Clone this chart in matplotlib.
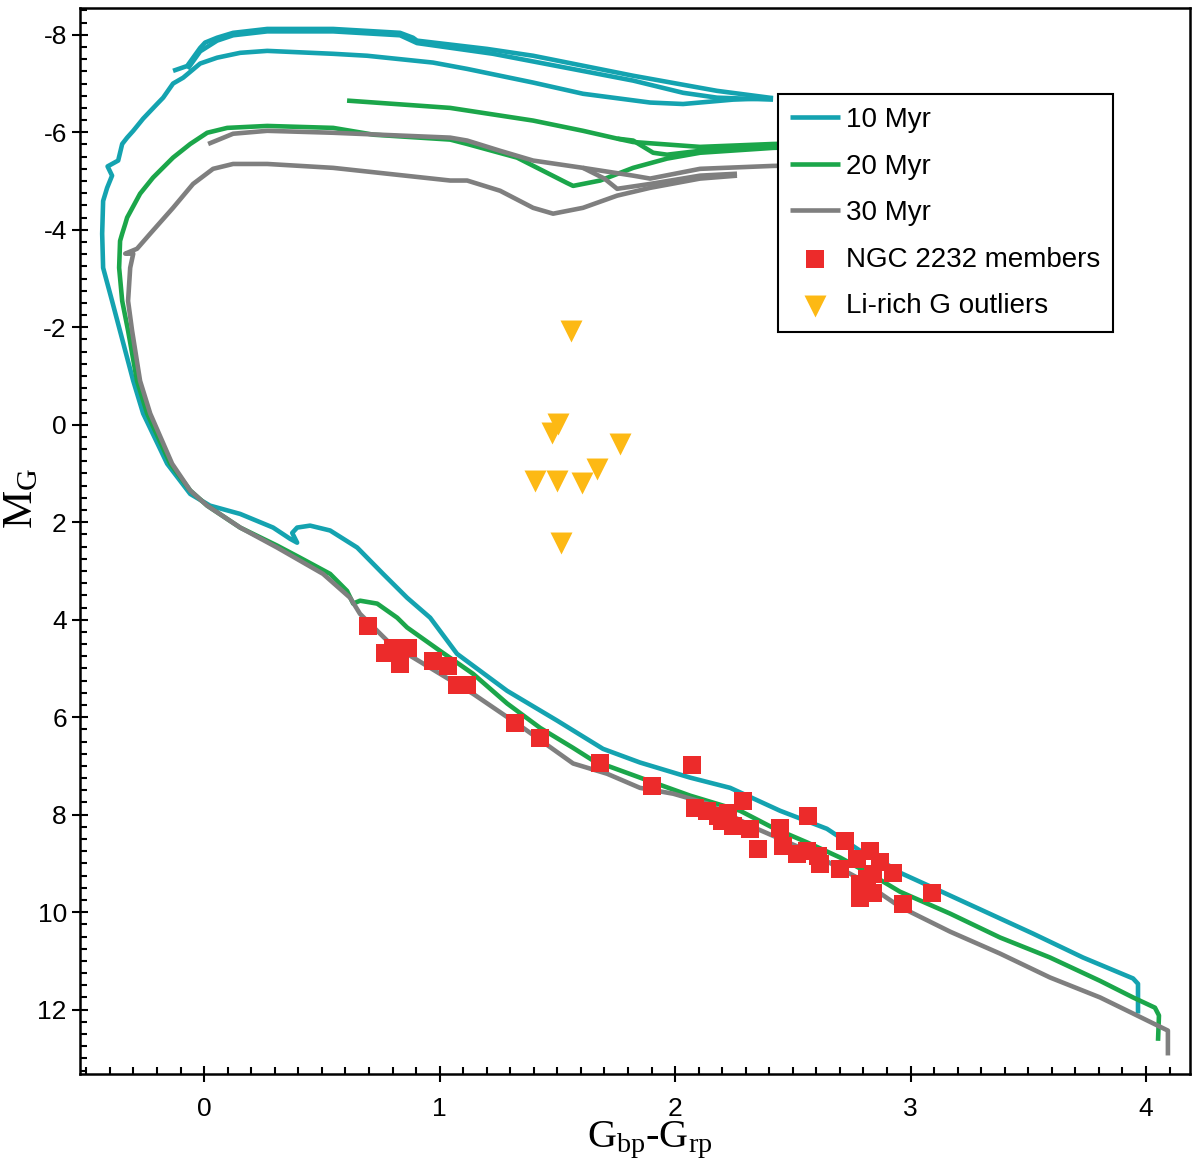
import matplotlib
matplotlib.use('Agg')
import matplotlib.pyplot as plt
from matplotlib.ticker import MultipleLocator

plt.rcParams['font.family'] = ['Liberation Sans', 'DejaVu Sans']
plt.rcParams['axes.unicode_minus'] = False
plt.rcParams['mathtext.fontset'] = 'custom'
plt.rcParams['mathtext.rm'] = 'Liberation Serif'
plt.rcParams['mathtext.it'] = 'Liberation Serif:italic'

TEAL = '#14a3b0'
GREEN = '#1ba64a'
GREY = '#7f7f7f'
RED = '#ec2b2b'
YELLOW = '#fdb914'

# ---- isochrones (Gbp-Grp, M_G) ----
iso10_c = [3.966, 3.966, 3.945, 3.732, 3.520, 3.308, 3.096, 2.955, 2.926, 2.786, 2.645, 2.446,
           2.234, 2.064, 1.851, 1.694, 1.499, 1.287, 1.074, 0.960, 0.862, 0.760, 0.650, 0.535,
           0.450, 0.395, 0.374, 0.395, 0.365, 0.293, 0.153, 0.025, -0.059, -0.157, -0.259,
           -0.301, -0.391, -0.429, -0.433, -0.429, -0.412, -0.391, -0.410, -0.365, -0.348,
           -0.327, -0.301, -0.259, -0.200, -0.174, -0.132, -0.089, -0.017, 0.055, 0.153, 0.268,
           0.548, 0.692, 0.972, 1.117, 1.397, 1.609, 1.894, 2.034, 2.246, 2.416]
iso10_m = [12.08, 11.47, 11.36, 10.93, 10.44, 9.97, 9.50, 9.19, 9.09, 8.74, 8.29, 7.92,
           7.45, 7.24, 6.93, 6.65, 6.07, 5.46, 4.70, 3.96, 3.55, 3.06, 2.52, 2.17,
           2.07, 2.11, 2.22, 2.42, 2.34, 2.11, 1.83, 1.66, 1.42, 0.80, -0.23,
           -0.90, -2.54, -3.22, -3.92, -4.59, -4.86, -5.11, -5.30, -5.42, -5.76,
           -5.89, -6.03, -6.28, -6.58, -6.71, -7.00, -7.12, -7.41, -7.53, -7.63, -7.67,
           -7.61, -7.57, -7.43, -7.30, -7.02, -6.79, -6.61, -6.58, -6.67, -6.70]
iso10_top_a_c = [-0.132, -0.072, -0.017, 0.004, 0.055, 0.123, 0.268, 0.548, 0.832, 0.887, 0.904,
                 1.202, 1.397, 1.822, 2.178, 2.416]
iso10_top_a_m = [-7.26, -7.36, -7.73, -7.84, -7.94, -8.04, -8.12, -8.12, -8.04, -7.94, -7.88,
                 -7.71, -7.57, -7.16, -6.85, -6.70]
iso10_top_b_c = [-0.070, -0.017, 0.055, 0.123, 0.268, 0.548, 0.832, 0.904, 1.227, 1.541, 1.822,
                 2.034, 2.178, 2.416]
iso10_top_b_m = [-7.30, -7.66, -7.88, -7.99, -8.07, -8.07, -7.99, -7.83, -7.61, -7.32, -7.06,
                 -6.81, -6.71, -6.67]

iso20_c = [4.051, 4.055, 4.038, 3.945, 3.805, 3.592, 3.380, 3.168, 2.955, 2.841, 2.701, 2.561,
           2.416, 2.276, 2.064, 1.851, 1.652, 1.567, 1.427, 1.287, 1.142, 1.002, 0.862, 0.820,
           0.735, 0.662, 0.633, 0.607, 0.535, 0.408, 0.310, 0.153, 0.013, -0.059, -0.144,
           -0.242, -0.285, -0.323, -0.348, -0.361, -0.357, -0.348, -0.335, -0.327, -0.272,
           -0.217, -0.132, -0.059, 0.013, 0.098, 0.268, 0.548, 0.720, 1.045, 1.117, 1.329,
           1.541, 1.567, 1.682, 1.822, 1.966, 2.106, 2.416, 2.550]
iso20_m = [12.64, 12.12, 11.96, 11.75, 11.41, 10.93, 10.52, 10.03, 9.58, 9.25, 8.88, 8.57,
           8.27, 7.92, 7.61, 7.24, 6.89, 6.63, 6.22, 5.72, 5.11, 4.64, 4.16, 3.96,
           3.67, 3.61, 3.67, 3.41, 3.06, 2.73, 2.48, 2.11, 1.66, 1.35, 0.80,
           -0.23, -0.90, -1.93, -2.54, -3.22, -3.77, -3.92, -4.12, -4.25, -4.74,
           -5.07, -5.48, -5.76, -5.99, -6.09, -6.13, -6.09, -5.95, -5.85, -5.76, -5.48,
           -4.96, -4.90, -5.01, -5.27, -5.46, -5.58, -5.68, -5.70]
iso20_top_a_c = [0.607, 1.045, 1.397, 1.609, 1.754, 1.822, 1.907, 1.966, 2.106, 2.416, 2.550]
iso20_top_a_m = [-6.65, -6.50, -6.24, -6.03, -5.87, -5.83, -5.58, -5.54, -5.62, -5.72, -5.73]
iso20_top_b_c = [1.754, 1.822, 2.106, 2.416, 2.550]
iso20_top_b_m = [-5.87, -5.80, -5.70, -5.76, -5.77]

iso30_c = [4.093, 4.093, 3.945, 3.805, 3.592, 3.380, 3.168, 2.955, 2.773, 2.561, 2.348, 2.136,
           1.992, 1.851, 1.711, 1.567, 1.355, 1.142, 0.930, 0.790, 0.662, 0.620, 0.505, 0.310,
           0.153, 0.013, -0.059, -0.136, -0.229, -0.272, -0.306, -0.323, -0.314, -0.301,
           -0.335, -0.285, -0.229, -0.132, -0.047, 0.038, 0.123, 0.268, 0.548, 1.045, 1.117,
           1.257, 1.397, 1.482, 1.609, 1.754, 1.894, 2.106, 2.263]
iso30_m = [12.94, 12.43, 12.08, 11.75, 11.34, 10.85, 10.40, 9.89, 9.29, 8.74, 8.29, 7.77,
           7.57, 7.45, 7.16, 6.95, 6.22, 5.52, 4.90, 4.49, 3.88, 3.55, 3.06, 2.52,
           2.11, 1.66, 1.35, 0.80, -0.23, -0.90, -1.93, -2.54, -3.22, -3.51,
           -3.51, -3.61, -3.92, -4.45, -4.94, -5.25, -5.35, -5.35, -5.27, -5.01, -5.01,
           -4.80, -4.45, -4.33, -4.45, -4.70, -4.86, -5.05, -5.11]
iso30_top_a_c = [0.017, 0.123, 0.268, 0.548, 1.045, 1.117, 1.257, 1.397, 1.609, 1.700, 1.754,
                 1.894, 2.106, 2.263]
iso30_top_a_m = [-5.76, -5.97, -6.03, -5.99, -5.89, -5.83, -5.62, -5.42, -5.27, -5.05, -4.84,
                 -4.94, -5.11, -5.15]
iso30_top_b_c = [1.609, 1.822, 1.894, 2.106, 2.416, 2.550]
iso30_top_b_m = [-5.27, -5.11, -5.05, -5.25, -5.31, -5.32]

# ---- stars ----
members_c = [0.696, 0.803, 0.866, 0.832, 0.769, 0.972, 1.036, 1.074, 1.117, 1.321, 1.427, 1.682,
             1.902, 2.072, 2.085, 2.136, 2.183, 2.225, 2.200, 2.246, 2.289, 2.318, 2.352, 2.446,
             2.565, 2.459, 2.518, 2.561, 2.607, 2.616, 2.722, 2.701, 2.828, 2.773, 2.870, 2.926,
             2.786, 2.786, 2.841, 2.968, 3.091, 2.841, 2.815]
members_m = [4.12, 4.59, 4.59, 4.90, 4.68, 4.84, 4.94, 5.35, 5.33, 6.11, 6.42, 6.95,
             7.41, 6.99, 7.86, 7.92, 8.02, 7.96, 8.12, 8.23, 7.71, 8.29, 8.70, 8.27,
             8.02, 8.64, 8.80, 8.74, 8.84, 9.01, 8.53, 9.11, 8.74, 8.90, 8.98, 9.19,
             9.42, 9.70, 9.60, 9.83, 9.60, 9.21, 9.31]

outliers_c = [1.558, 1.503, 1.478, 1.766, 1.669, 1.406, 1.499, 1.605, 1.516]
outliers_m = [-1.93, -0.02, 0.16, 0.39, 0.90, 1.15, 1.15, 1.19, 2.42]

isochrones = [
    ('10 Myr', TEAL, [(iso10_c, iso10_m), (iso10_top_a_c, iso10_top_a_m), (iso10_top_b_c, iso10_top_b_m)]),
    ('20 Myr', GREEN, [(iso20_c, iso20_m), (iso20_top_a_c, iso20_top_a_m), (iso20_top_b_c, iso20_top_b_m)]),
    ('30 Myr', GREY, [(iso30_c, iso30_m), (iso30_top_a_c, iso30_top_a_m), (iso30_top_b_c, iso30_top_b_m)]),
]


fig = plt.figure(figsize=(12, 11.74), dpi=100)
ax = fig.add_axes([0.0667, 0.0852, 0.925, 0.908])

handles = []
for label, color, segments in isochrones:
    for k, (c, m) in enumerate(segments):
        line, = ax.plot(c, m, color=color, lw=3.3, solid_joinstyle='round',
                        solid_capstyle='butt', zorder=2)
        if k == 0:
            handles.append(line)

h_mem = ax.scatter(members_c, members_m, marker='s', s=150, color=RED, lw=0, zorder=4)
h_out = ax.scatter(outliers_c, outliers_m, marker='v', s=250, color=YELLOW, lw=0, zorder=5)
handles += [h_mem, h_out]

ax.set_xlim(-0.527, 4.187)
ax.set_ylim(13.32, -8.55)

ax.xaxis.set_major_locator(MultipleLocator(1))
ax.xaxis.set_minor_locator(MultipleLocator(0.1))
ax.yaxis.set_major_locator(MultipleLocator(2))
ax.yaxis.set_minor_locator(MultipleLocator(0.25))
ax.tick_params(which='major', direction='inout', length=11, width=1.5, labelsize=19,
               pad=4, top=False, right=False)
ax.tick_params(axis='x', which='major', pad=11)
ax.tick_params(which='minor', direction='in', length=5, width=1.5, top=False, right=False)
for sp in ax.spines.values():
    sp.set_linewidth(1.8)

ax.set_xlabel(r'G$_{\mathrm{bp}}$-G$_{\mathrm{rp}}$', fontfamily='Liberation Serif',
              fontsize=29, va='center')
ax.xaxis.set_label_coords(0.513, -0.062)
ax.set_ylabel(r'M$_{\mathrm{G}}$', fontfamily='Liberation Serif', fontsize=31, va='center')
ax.yaxis.set_label_coords(-0.052, 0.540)

leg = ax.legend(handles, ['10 Myr', '20 Myr', '30 Myr', 'NGC 2232 members', 'Li-rich G outliers'],
                loc='upper right', bbox_to_anchor=(0.9306, 0.9190), borderaxespad=0,
                fontsize=20, fancybox=False, framealpha=1, edgecolor='black',
                handlelength=1.8, handletextpad=0.2, labelspacing=0.74, borderpad=0.46)
leg.get_frame().set_linewidth(1.5)

fig.savefig('out.png', dpi=100)
